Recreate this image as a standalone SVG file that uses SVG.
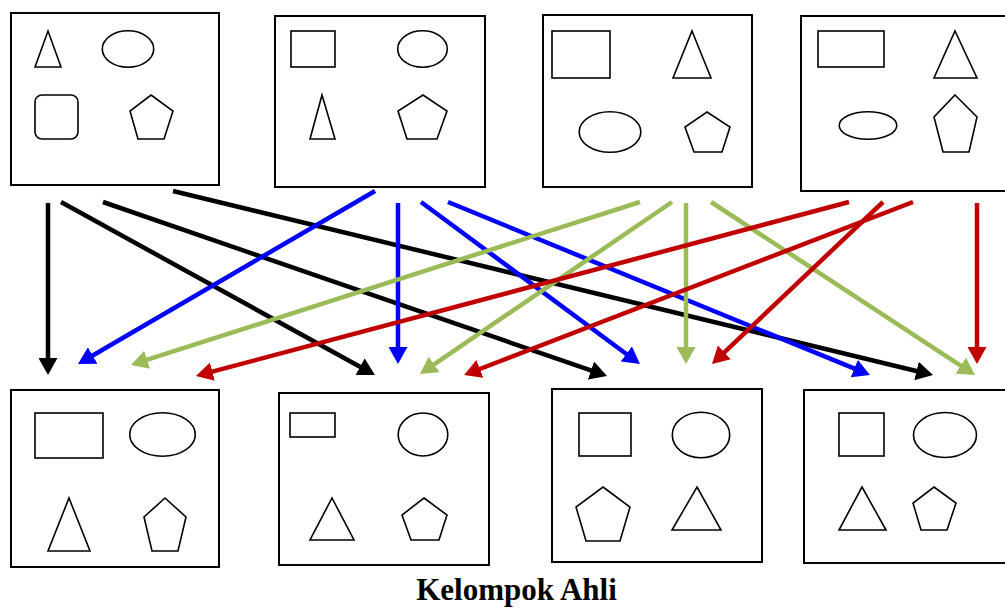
<svg xmlns="http://www.w3.org/2000/svg" width="1005" height="608" viewBox="0 0 1005 608">
<style>
.box{fill:#fff;stroke:#000;stroke-width:2}
.sh{fill:none;stroke:#000;stroke-width:1.6;stroke-linejoin:miter}
.k{stroke:#000;stroke-width:4.5;fill:none}
.b{stroke:#0000FF;stroke-width:4.5;fill:none}
.g{stroke:#9BBB59;stroke-width:4.5;fill:none}
.r{stroke:#C00000;stroke-width:4.5;fill:none}
.title{font-family:"Liberation Serif","Times New Roman",serif;font-weight:bold;font-size:31px}
</style>
<defs>
<marker id="mk" markerUnits="userSpaceOnUse" markerWidth="19" markerHeight="19" viewBox="0 0 19 19" refX="3" refY="9.5" orient="auto"><path d="M0,0 L17,9.5 L0,19 z" fill="#000"/></marker>
<marker id="mb" markerUnits="userSpaceOnUse" markerWidth="19" markerHeight="19" viewBox="0 0 19 19" refX="3" refY="9.5" orient="auto"><path d="M0,0 L17,9.5 L0,19 z" fill="#0000FF"/></marker>
<marker id="mg" markerUnits="userSpaceOnUse" markerWidth="19" markerHeight="19" viewBox="0 0 19 19" refX="3" refY="9.5" orient="auto"><path d="M0,0 L17,9.5 L0,19 z" fill="#9BBB59"/></marker>
<marker id="mr" markerUnits="userSpaceOnUse" markerWidth="19" markerHeight="19" viewBox="0 0 19 19" refX="3" refY="9.5" orient="auto"><path d="M0,0 L17,9.5 L0,19 z" fill="#C00000"/></marker>
</defs>
<rect width="1005" height="608" fill="#fff"/>

<g id="top1">
<rect class="box" x="11" y="13" width="208" height="172"/>
<polygon class="sh" points="48,31 61,67 35,67"/>
<ellipse class="sh" cx="128" cy="49" rx="25.7" ry="18.2"/>
<rect class="sh" x="35" y="95" width="43" height="44" rx="7"/>
<polygon class="sh" points="151,95 173,111 164,139 138,139 130,111"/>
</g>
<g id="top2">
<rect class="box" x="275" y="16" width="210" height="171"/>
<rect class="sh" x="291" y="31" width="44" height="36"/>
<ellipse class="sh" cx="422.5" cy="49" rx="24.8" ry="18.2"/>
<polygon class="sh" points="322,95 335,139 310,139"/>
<polygon class="sh" points="423,95 447,111 437,139 407,139 398,111"/>
</g>
<g id="top3">
<rect class="box" x="543" y="15" width="209" height="172"/>
<rect class="sh" x="552" y="31" width="58" height="47"/>
<polygon class="sh" points="692,31 711,78 673,78"/>
<ellipse class="sh" cx="610" cy="132" rx="30.8" ry="20.3"/>
<polygon class="sh" points="707,112 730,127 722,152 694,152 685,127"/>
</g>
<g id="top4">
<rect class="box" x="801" y="16" width="210" height="175"/>
<rect class="sh" x="818" y="31" width="66" height="36"/>
<polygon class="sh" points="955,31 977,78 934,78"/>
<ellipse class="sh" cx="868" cy="125.5" rx="28.8" ry="13.8"/>
<polygon class="sh" points="955,95 977,117 969,152 943,152 934,117"/>
</g>

<g id="bot1">
<rect class="box" x="11" y="390" width="208" height="177"/>
<rect class="sh" x="35" y="413" width="68" height="45"/>
<ellipse class="sh" cx="162.5" cy="434.5" rx="32.8" ry="21.8"/>
<polygon class="sh" points="69,498 90,551 48,551"/>
<polygon class="sh" points="165,498 186,517 178,551 152,551 144,517"/>
</g>
<g id="bot2">
<rect class="box" x="279" y="393" width="210" height="172"/>
<rect class="sh" x="290" y="413" width="45" height="24"/>
<ellipse class="sh" cx="423" cy="434.5" rx="24.8" ry="21.5"/>
<polygon class="sh" points="332,498 354,540 310,540"/>
<polygon class="sh" points="424,498 447,515 439,540 411,540 402,515"/>
</g>
<g id="bot3">
<rect class="box" x="552" y="389" width="210" height="173"/>
<rect class="sh" x="579" y="413" width="52" height="43"/>
<ellipse class="sh" cx="701" cy="435" rx="28.7" ry="22.7"/>
<polygon class="sh" points="603,487 630,507 620,541 586,541 576,507"/>
<polygon class="sh" points="697,487 721,530 672,530"/>
</g>
<g id="bot4">
<rect class="box" x="804" y="390" width="210" height="173"/>
<rect class="sh" x="839" y="413" width="45" height="43"/>
<ellipse class="sh" cx="945" cy="435" rx="31.5" ry="22.5"/>
<polygon class="sh" points="862,487 886,530 839,530"/>
<polygon class="sh" points="934,487 956,503 947,530 921,530 913,503"/>
</g>

<g id="connectors">
<line class="k" x1="48" y1="203" x2="48" y2="361" marker-end="url(#mk)"/>
<line class="k" x1="61" y1="202" x2="362.7" y2="368.2" marker-end="url(#mk)"/>
<line class="k" x1="103" y1="202" x2="593.8" y2="371.4" marker-end="url(#mk)"/>
<line class="k" x1="173" y1="191" x2="919.4" y2="371.7" marker-end="url(#mk)"/>

<line class="b" x1="375" y1="191" x2="90.1" y2="357" marker-end="url(#mb)"/>
<line class="b" x1="398" y1="203" x2="398" y2="350" marker-end="url(#mb)"/>
<line class="b" x1="421" y1="202" x2="628.7" y2="355.7" marker-end="url(#mb)"/>
<line class="b" x1="448" y1="202" x2="857" y2="369.7" marker-end="url(#mb)"/>

<line class="g" x1="640" y1="202" x2="144.3" y2="360.7" marker-end="url(#mg)"/>
<line class="g" x1="672" y1="202" x2="431.6" y2="366.1" marker-end="url(#mg)"/>
<line class="g" x1="686" y1="203" x2="686" y2="350" marker-end="url(#mg)"/>
<line class="g" x1="711" y1="202" x2="963.3" y2="367.3" marker-end="url(#mg)"/>

<line class="r" x1="849" y1="202" x2="209.5" y2="372.4" marker-end="url(#mr)"/>
<line class="r" x1="883" y1="202" x2="722.2" y2="354.4" marker-end="url(#mr)"/>
<line class="r" x1="913" y1="202" x2="477.1" y2="370" marker-end="url(#mr)"/>
<line class="r" x1="977" y1="203" x2="977" y2="350" marker-end="url(#mr)"/>
</g>

<text class="title" x="516.5" y="600" text-anchor="middle">Kelompok Ahli</text>
</svg>
